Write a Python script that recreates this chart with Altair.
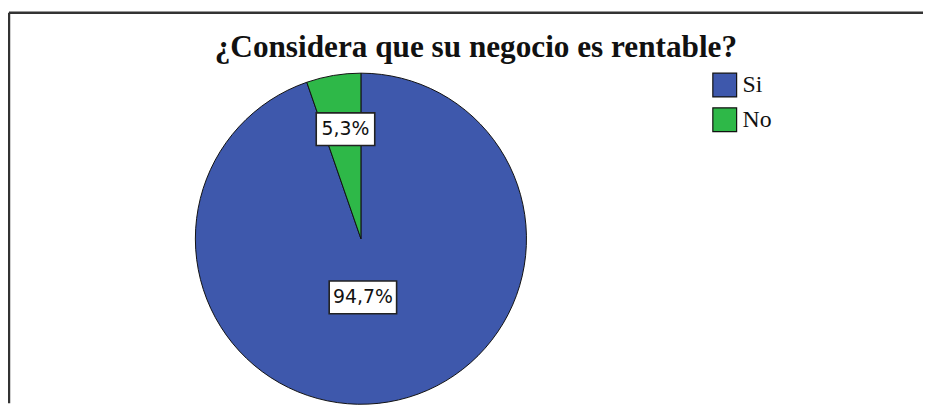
import altair as alt
import pandas as pd

title_text = "¿Considera que su negocio es rentable?"
categories = ["Si", "No"]
percentages = [94.7, 5.3]
labels = ["94,7%", "5,3%"]
colors = ["#3E58AC", "#2EB848"]

W, H = 923, 397
CX, CY, R = 356, 231, 167

df = pd.DataFrame({
    "cat": categories,
    "pct": percentages,
    "label": labels,
    "idx": list(range(len(categories))),
})

base = alt.Chart(df)

pie = base.mark_arc(radius=R, stroke="#111111", strokeWidth=1).encode(
    theta=alt.Theta("pct:Q", stack=True),
    color=alt.Color(
        "cat:N",
        scale=alt.Scale(domain=categories, range=colors),
        legend=alt.Legend(
            title=None,
            orient="none",
            legendX=710,
            legendY=63,
            symbolType="square",
            symbolSize=576,
            symbolStrokeColor="#111111",
            symbolStrokeWidth=1.2,
            symbolOpacity=1,
            labelFont="Liberation Serif",
            labelFontSize=24,
            labelColor="#111111",
            labelOffset=5,
            rowPadding=5,
            padding=0,
        ),
    ),
    order=alt.Order("idx:Q"),
    x=alt.value(CX),
    y=alt.value(CY),
)

positioned = base.transform_window(
    cum="sum(pct)", sort=[alt.SortField("idx")]
).transform_calculate(
    mid="((datum.cum - datum.pct / 2) / 100) * 2 * PI",
    lr="datum.cat == 'No' ? 112 : 60",
).transform_calculate(
    lx=f"datum.cat == 'Si' ? {CX} + 2 : {CX} + 3 + datum.lr * sin(datum.mid)",
    ly=f"{CY} - datum.lr * cos(datum.mid)",
    bw="9 * length(datum.label) + 23",
).transform_calculate(
    x1="datum.lx - datum.bw / 2",
    x2="datum.lx + datum.bw / 2",
    y1="datum.ly - 16.5",
    y2="datum.ly + 16.5",
)

boxes = positioned.mark_rect(fill="white", stroke="#222222", strokeWidth=1.6).encode(
    x=alt.X("x1:Q", scale=None, axis=None),
    x2="x2:Q",
    y=alt.Y("y1:Q", scale=None, axis=None),
    y2="y2:Q",
)

texts = positioned.mark_text(
    font="DejaVu Sans", fontSize=19, color="#111111", baseline="middle", align="center"
).encode(
    x=alt.X("lx:Q", scale=None, axis=None),
    y=alt.Y("ly:Q", scale=None, axis=None),
    text="label:N",
)

title_df = pd.DataFrame({"t": [title_text]})
title = alt.Chart(title_df).mark_text(
    font="Liberation Serif", fontWeight="bold", fontSize=31.5, color="#111111",
    baseline="alphabetic", align="center",
).encode(x=alt.value(472), y=alt.value(48), text="t:N")

frame_top = alt.Chart(title_df).mark_rule(color="#333333", strokeWidth=2.5).encode(
    x=alt.value(1), x2=alt.value(W), y=alt.value(3)
)
frame_left = alt.Chart(title_df).mark_rule(color="#333333", strokeWidth=2.5).encode(
    x=alt.value(1), y=alt.value(3), y2=alt.value(H)
)

chart = alt.layer(frame_top, frame_left, title, pie, boxes, texts).properties(
    width=W, height=H, padding=0, autosize="none"
).configure_view(stroke=None)

chart.save("out.html", embed_options={"renderer": "svg", "actions": False})
